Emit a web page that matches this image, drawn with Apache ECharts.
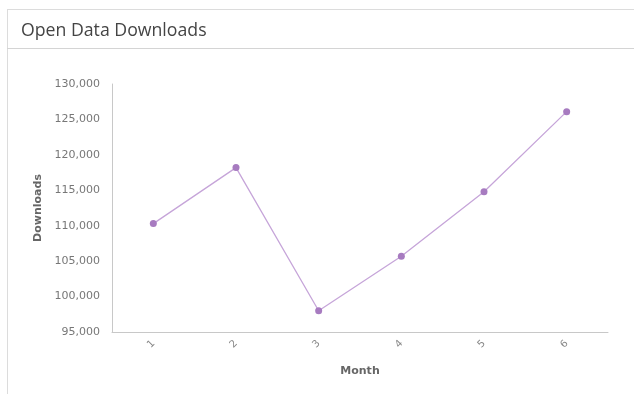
<!DOCTYPE html>
<html>
<head>
<meta charset="utf-8">
<script src="https://cdn.jsdelivr.net/npm/echarts@6/dist/echarts.min.js"></script>
<style>
  html, body { margin: 0; padding: 0; background: #fff; overflow: hidden; }
  #panel { position: absolute; left: 7px; top: 9px; width: 700px; height: 420px;
           border-left: 1px solid #dcdcdc; border-top: 1px solid #dcdcdc; }
  #divider { position: absolute; left: 7px; top: 48px; width: 700px; border-top: 1px solid #d4d4d4; }
  #chart { position: absolute; left: 0; top: 0; width: 634px; height: 394px; }
</style>
</head>
<body>
<div id="panel"></div>
<div id="divider"></div>
<div id="chart"></div>
<script>
// chart data
var months = ['1', '2', '3', '4', '5', '6']
var downloads = [110300, 118200, 98000, 105700, 114800, 126100]

var chart = echarts.init(document.getElementById('chart'))
chart.setOption({
  animation: false,
  title: {
    text: 'Open Data Downloads',
    left: 16,
    top: 17,
    textStyle: {
      fontFamily: 'Open Sans',
      fontSize: 17.7,
      fontWeight: 'normal',
      color: '#444'
    }
  },
  grid: {
    left: 112,
    top: 84,
    width: 496,
    height: 248
  },
  xAxis: {
    type: 'category',
    data: months,
    name: 'Month',
    nameLocation: 'middle',
    nameGap: 34,
    nameTextStyle: {
      fontFamily: 'DejaVu Sans',
      fontSize: 11,
      fontWeight: 'bold',
      color: '#666'
    },
    axisLine: { lineStyle: { color: '#c8c8c8' } },
    axisTick: { show: false },
    axisLabel: {
      rotate: 45,
      margin: 10,
      fontFamily: 'DejaVu Sans',
      fontSize: 10,
      color: '#888'
    }
  },
  yAxis: {
    type: 'value',
    min: 95000,
    max: 130000,
    interval: 5000,
    name: 'Downloads',
    nameLocation: 'middle',
    nameGap: 66,
    nameTextStyle: {
      fontFamily: 'DejaVu Sans',
      fontSize: 11,
      fontWeight: 'bold',
      color: '#666'
    },
    axisLine: { show: true, lineStyle: { color: '#c8c8c8' } },
    axisTick: { show: false },
    splitLine: { show: false },
    axisLabel: {
      margin: 12,
      fontFamily: 'DejaVu Sans',
      fontSize: 11,
      color: '#777',
      formatter: function (v) {
        return v.toLocaleString('en-US')
      }
    }
  },
  series: [{
    type: 'line',
    data: downloads,
    symbol: 'circle',
    symbolSize: 7,
    itemStyle: { color: '#a77bc0' },
    lineStyle: { color: '#c6a5d9', width: 1.3 }
  }]
})
</script>
</body>
</html>
